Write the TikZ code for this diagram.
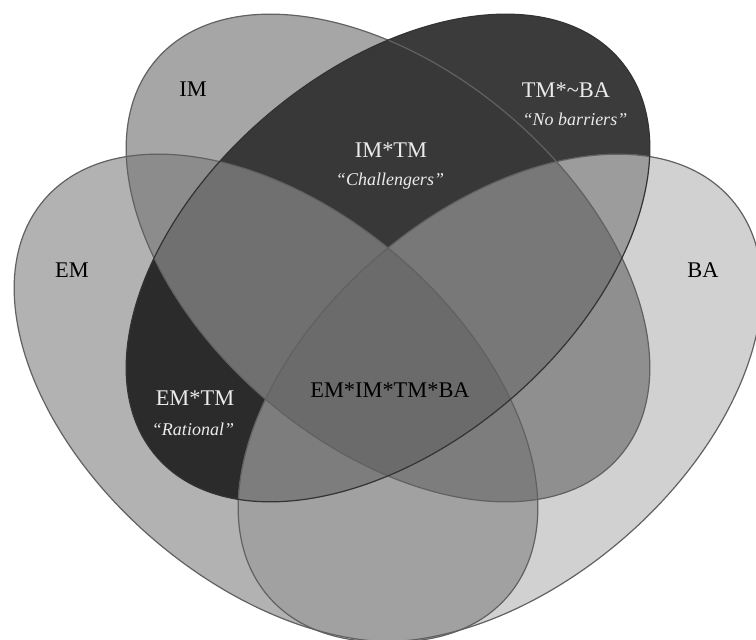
\documentclass[tikz,border=0pt]{standalone}
\usepackage{fontspec}
\setmainfont{Liberation Serif}
\definecolor{cEM}{gray}{0.70}
\definecolor{cIM}{gray}{0.65}
\definecolor{cTM}{gray}{0.23}
\definecolor{cBA}{gray}{0.82}
\definecolor{cEMIM}{gray}{0.55}
\definecolor{cEMTM}{gray}{0.17}
\definecolor{cEMBA}{gray}{0.63}
\definecolor{cIMTM}{gray}{0.22}
\definecolor{cIMBA}{gray}{0.56}
\definecolor{cTMBA}{gray}{0.61}
\definecolor{cEMIMTM}{gray}{0.44}
\definecolor{cEMIMBA}{gray}{0.49}
\definecolor{cEMTMBA}{gray}{0.49}
\definecolor{cIMTMBA}{gray}{0.47}
\definecolor{cAll}{gray}{0.42}
\tikzset{oval/.style={x radius=152.5pt,y radius=93.5pt},
         setEM/.style={shift={(276,398)},rotate=-40.5},
         setIM/.style={shift={(388,258)},rotate=-40.5},
         setTM/.style={shift={(388,258)},rotate=40.5},
         setBA/.style={shift={(500,398)},rotate=40.5},
         rim/.style={draw=black!62,line width=0.6pt},
         lab/.style={anchor=base,inner sep=0pt,font=\fontsize{11.2}{13}\selectfont},
         note/.style={anchor=base,inner sep=0pt,text=white!92!black,font=\fontsize{9}{11}\selectfont\itshape},
        }

\begin{document}
\begin{tikzpicture}[x=0.5pt,y=-0.5pt]
        \useasboundingbox (0,0) rectangle (756,640);

        % one set
        \fill[cEM,setEM](0,0)ellipse[oval];
        \fill[cIM,setIM](0,0)ellipse[oval];
        \fill[cTM,setTM](0,0)ellipse[oval];
        \fill[cBA,setBA](0,0)ellipse[oval];

        % two sets
        \begin{scope}\clip[setEM](0,0)ellipse[oval];\fill[cEMIM,setIM](0,0)ellipse[oval];\end{scope}
        \begin{scope}\clip[setEM](0,0)ellipse[oval];\fill[cEMTM,setTM](0,0)ellipse[oval];\end{scope}
        \begin{scope}\clip[setEM](0,0)ellipse[oval];\fill[cEMBA,setBA](0,0)ellipse[oval];\end{scope}
        \begin{scope}\clip[setIM](0,0)ellipse[oval];\fill[cIMTM,setTM](0,0)ellipse[oval];\end{scope}
        \begin{scope}\clip[setIM](0,0)ellipse[oval];\fill[cIMBA,setBA](0,0)ellipse[oval];\end{scope}
        \begin{scope}\clip[setTM](0,0)ellipse[oval];\fill[cTMBA,setBA](0,0)ellipse[oval];\end{scope}

        % three sets
        \begin{scope}\clip[setEM](0,0)ellipse[oval];\clip[setIM](0,0)ellipse[oval];\fill[cEMIMTM,setTM](0,0)ellipse[oval];\end{scope}
        \begin{scope}\clip[setEM](0,0)ellipse[oval];\clip[setIM](0,0)ellipse[oval];\fill[cEMIMBA,setBA](0,0)ellipse[oval];\end{scope}
        \begin{scope}\clip[setEM](0,0)ellipse[oval];\clip[setTM](0,0)ellipse[oval];\fill[cEMTMBA,setBA](0,0)ellipse[oval];\end{scope}
        \begin{scope}\clip[setIM](0,0)ellipse[oval];\clip[setTM](0,0)ellipse[oval];\fill[cIMTMBA,setBA](0,0)ellipse[oval];\end{scope}

        % all four
        \begin{scope}
            \clip[setEM](0,0)ellipse[oval];
            \clip[setIM](0,0)ellipse[oval];
            \clip[setTM](0,0)ellipse[oval];
            \fill[cAll,setBA](0,0)ellipse[oval];
        \end{scope}

        \draw[rim,setEM](0,0)ellipse[oval];
        \draw[rim,setIM](0,0)ellipse[oval];
        \draw[rim,setBA](0,0)ellipse[oval];
        \draw[rim,draw=black!80,setTM](0,0)ellipse[oval];

        \node[lab](lIM)at(193,97){IM};
        \node[lab](lEM)at(72,278){EM};
        \node[lab](lBA)at(703,278){BA};
        \node[lab,text=white!92!black](lTM)at(566,98){TM*\textasciitilde BA};
        \node[note](nTM)at(575,126){“No barriers”};
        \node[lab,text=white!92!black](lIMTM)at(391,158){IM*TM};
        \node[note](nIMTM)at(390,186){“Challengers”};
        \node[lab,text=white!92!black](lEMTM)at(195,406){EM*TM};
        \node[note](nEMTM)at(193,436){“Rational”};
        \node[lab](lAll)at(390,398){EM*IM*TM*BA};
    \end{tikzpicture}
\end{document}
